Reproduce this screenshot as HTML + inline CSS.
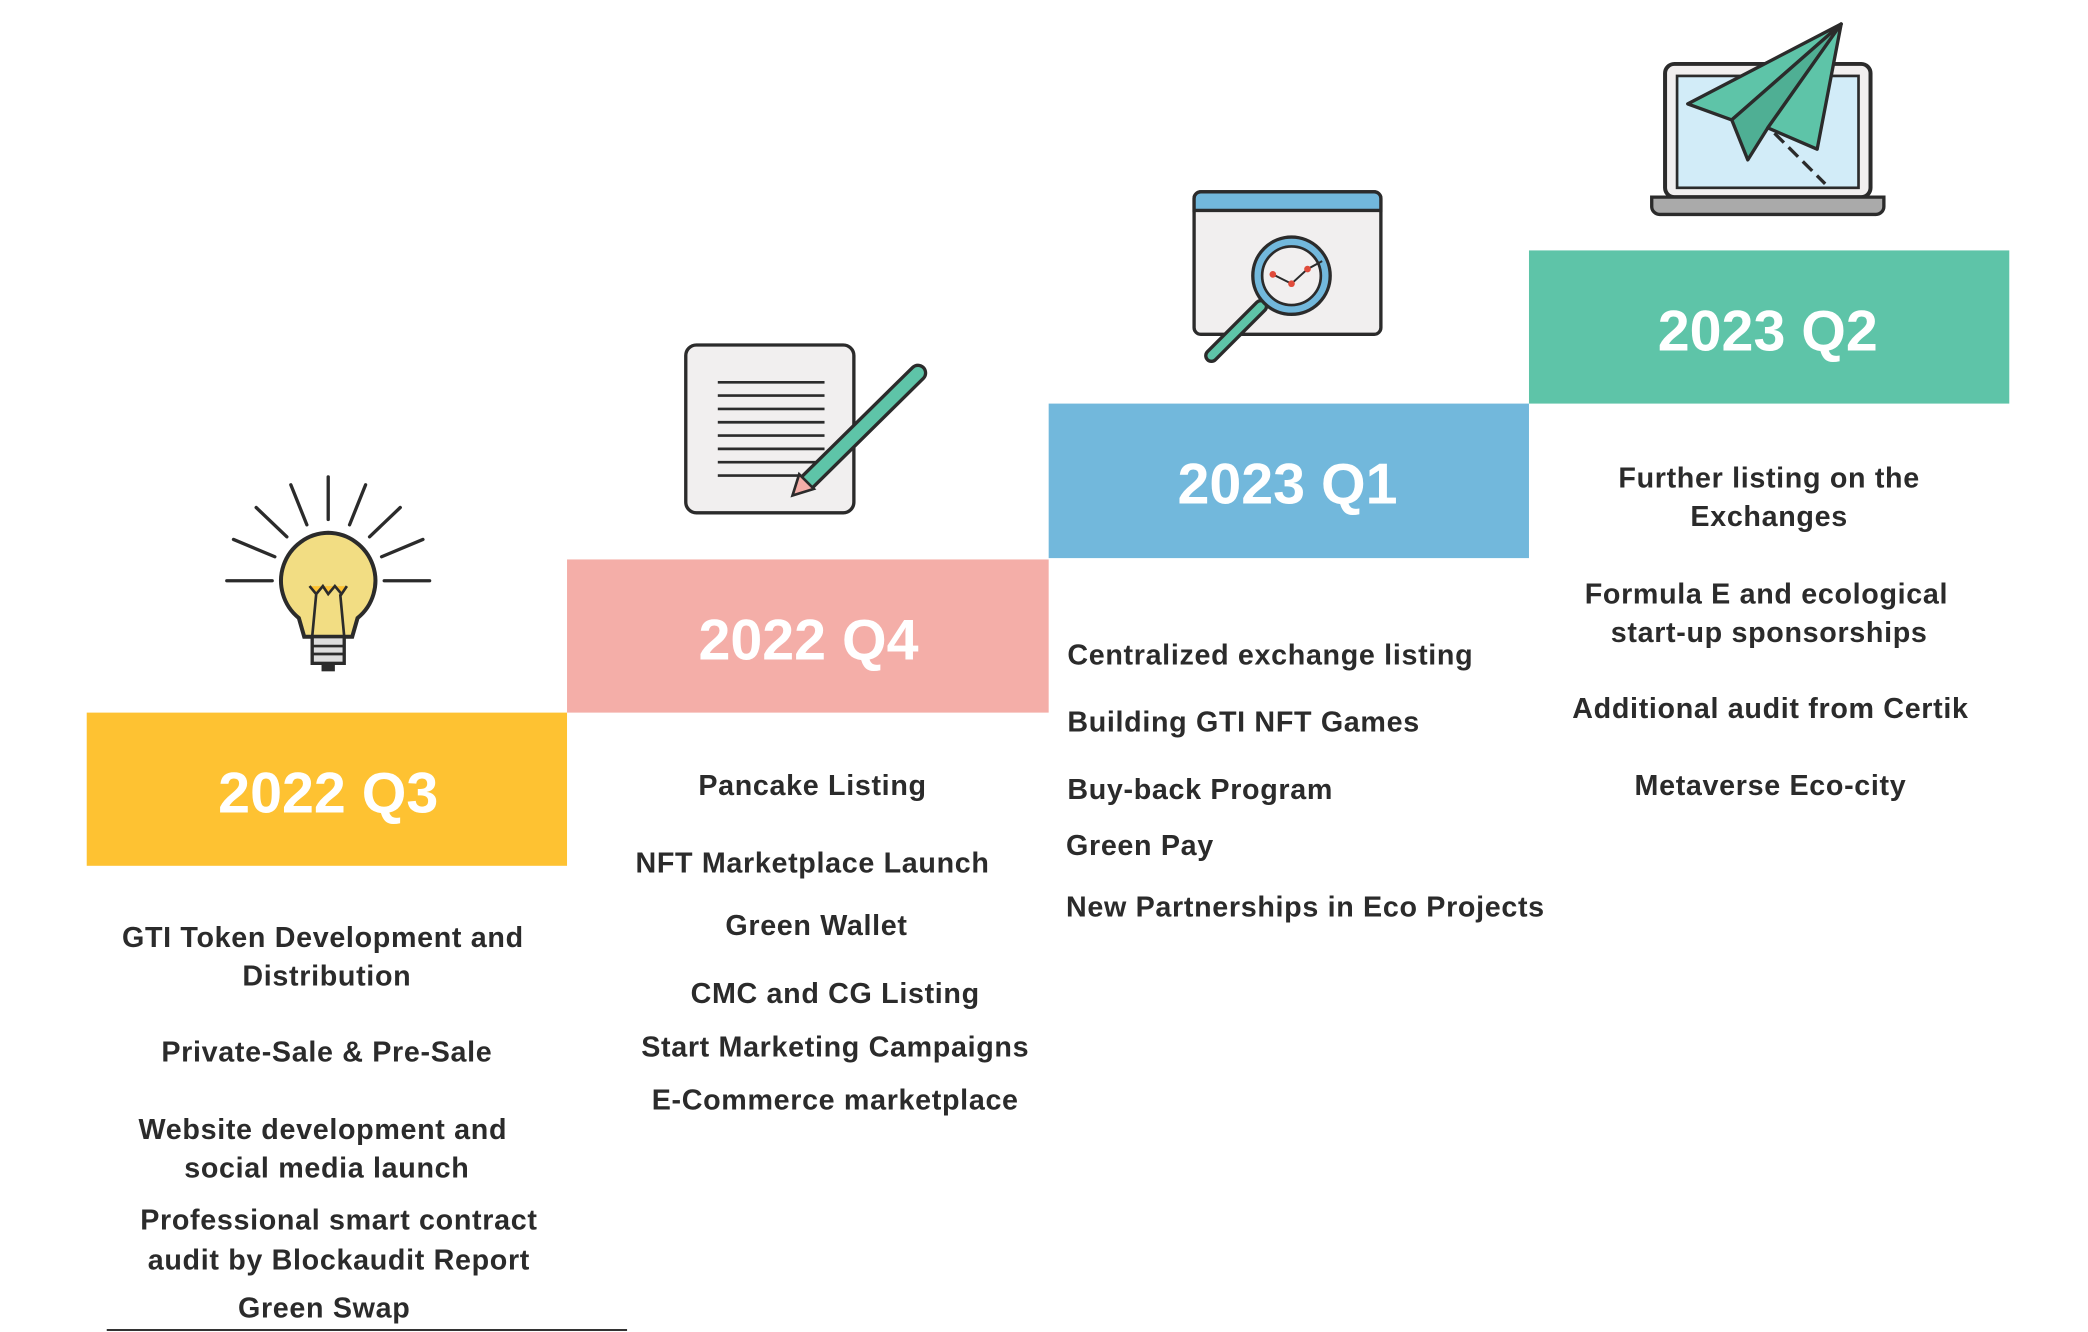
<!DOCTYPE html>
<html><head><meta charset="utf-8"><style>
html,body{margin:0;padding:0;background:#fff;width:2088px;height:1332px;overflow:hidden}
svg{display:block}
text{font-family:"Liberation Sans",sans-serif;font-weight:bold}
.b{font-size:21.5px;fill:#2b2b2b;letter-spacing:0.5px}
.t{font-size:43px;fill:#fff;text-anchor:middle}
</style></head><body>
<svg width="2088" height="1332" viewBox="0 0 1565 1000" preserveAspectRatio="none">
<rect x="65" y="535" width="360" height="115" fill="#FEC232"/>
<rect x="425" y="420" width="361" height="115" fill="#F4AEA8"/>
<rect x="786" y="303" width="360" height="116" fill="#72B8DC"/>
<rect x="1146" y="188" width="360" height="115" fill="#5EC4A8"/>
<text class="t" x="246" y="610">2022 Q3</text>
<text class="t" x="606" y="495">2022 Q4</text>
<text class="t" x="965" y="378">2023 Q1</text>
<text class="t" x="1325" y="263">2023 Q2</text>

<g text-anchor="middle">
<text class="b" x="242" y="711">GTI Token Development and</text>
<text class="b" x="245" y="740">Distribution</text>
<text class="b" x="245" y="797">Private-Sale &amp; Pre-Sale</text>
<text class="b" x="242" y="855">Website development and</text>
<text class="b" x="245" y="884">social media launch</text>
<text class="b" x="254" y="923">Professional smart contract</text>
<text class="b" x="254" y="953">audit by Blockaudit Report</text>
<text class="b" x="243" y="989">Green Swap</text>
<text class="b" x="609" y="597">Pancake Listing</text>
<text class="b" x="609" y="655">NFT Marketplace Launch</text>
<text class="b" x="612" y="702">Green Wallet</text>
<text class="b" x="626" y="753">CMC and CG Listing</text>
<text class="b" x="626" y="793">Start Marketing Campaigns</text>
<text class="b" x="626" y="833">E-Commerce marketplace</text>
<text class="b" x="1326" y="366">Further listing on the</text>
<text class="b" x="1326" y="395">Exchanges</text>
<text class="b" x="1324" y="453">Formula E and ecological</text>
<text class="b" x="1326" y="482">start-up sponsorships</text>
<text class="b" x="1327" y="539">Additional audit from Certik</text>
<text class="b" x="1327" y="597">Metaverse Eco-city</text>
</g>
<text class="b" x="800" y="499">Centralized exchange listing</text>
<text class="b" x="800" y="549">Building GTI NFT Games</text>
<text class="b" x="800" y="600">Buy-back Program</text>
<text class="b" x="799" y="642">Green Pay</text>
<text class="b" x="799" y="688">New Partnerships in Eco Projects</text>
<line x1="80" y1="998.5" x2="470" y2="998.5" stroke="#333" stroke-width="1.5"/>

<!-- bulb -->
<g stroke="#2b2b2b" stroke-width="2.5" stroke-linecap="round">
<line x1="246" y1="358" x2="246" y2="390"/>
<line x1="218" y1="364" x2="230" y2="394"/>
<line x1="274" y1="364" x2="262" y2="394"/>
<line x1="192" y1="381" x2="215" y2="403"/>
<line x1="300" y1="381" x2="277" y2="403"/>
<line x1="175" y1="405" x2="206" y2="418"/>
<line x1="317" y1="405" x2="286" y2="418"/>
<line x1="170" y1="436" x2="204" y2="436"/>
<line x1="322" y1="436" x2="288" y2="436"/>
</g>
<path d="M246 400 a36 36 0 0 1 22 64 l-4 14 h-36 l-4 -14 a36 36 0 0 1 22 -64z" fill="#F2DD83" stroke="#2b2b2b" stroke-width="3"/>
<path d="M232 440 l5 6 5 -6 4 6 5 -6 5 6 4 -6 M237 446 l-3 32 M255 446 l3 32" fill="#FEC232" stroke="#2b2b2b" stroke-width="2"/>
<rect x="234" y="478" width="24" height="20" fill="#ddd" stroke="#2b2b2b" stroke-width="2.5"/>
<line x1="234" y1="485" x2="258" y2="485" stroke="#2b2b2b" stroke-width="2"/>
<line x1="234" y1="491" x2="258" y2="491" stroke="#2b2b2b" stroke-width="2"/>
<rect x="241" y="498" width="10" height="6" fill="#2b2b2b"/>

<!-- document -->
<rect x="514" y="259" width="126" height="126" rx="8" fill="#F1EFEF" stroke="#2b2b2b" stroke-width="2.5"/>
<g stroke="#2b2b2b" stroke-width="2">
<line x1="538" y1="287" x2="618" y2="287"/><line x1="538" y1="297" x2="618" y2="297"/>
<line x1="538" y1="307" x2="618" y2="307"/><line x1="538" y1="317" x2="618" y2="317"/>
<line x1="538" y1="327" x2="618" y2="327"/><line x1="538" y1="337" x2="618" y2="337"/>
<line x1="538" y1="347" x2="618" y2="347"/><line x1="538" y1="357" x2="600" y2="357"/>
</g>
<line x1="605" y1="362" x2="688" y2="280" stroke="#2b2b2b" stroke-width="14" stroke-linecap="round"/>
<line x1="605" y1="362" x2="688" y2="280" stroke="#5EC4A8" stroke-width="9" stroke-linecap="round"/>
<path d="M594 372 l5 -16 l11 11 z" fill="#F4AEA8" stroke="#2b2b2b" stroke-width="2"/>

<!-- browser -->
<rect x="895" y="144" width="140" height="107" rx="5" fill="#F1EFEF" stroke="#2b2b2b" stroke-width="2.5"/>
<path d="M895 158 v-9 a5 5 0 0 1 5 -5 h130 a5 5 0 0 1 5 5 v9 z" fill="#72B8DC" stroke="#2b2b2b" stroke-width="2.5"/>
<line x1="945" y1="230" x2="908" y2="267" stroke="#2b2b2b" stroke-width="11" stroke-linecap="round"/>
<line x1="945" y1="230" x2="908" y2="267" stroke="#5EC4A8" stroke-width="6" stroke-linecap="round"/>
<circle cx="968" cy="207" r="29" fill="#72B8DC" stroke="#2b2b2b" stroke-width="2.5"/>
<circle cx="968" cy="207" r="22" fill="#F1EFEF" stroke="#2b2b2b" stroke-width="2"/>
<polyline points="954,206 968,213 980,202 991,196" fill="none" stroke="#2b2b2b" stroke-width="1.5"/>
<circle cx="954" cy="206" r="2.5" fill="#e04b3b"/><circle cx="968" cy="213" r="2.5" fill="#e04b3b"/><circle cx="980" cy="202" r="2.5" fill="#e04b3b"/>

<!-- laptop -->
<rect x="1248" y="48" width="154" height="100" rx="7" fill="#F1EFEF" stroke="#2b2b2b" stroke-width="3"/>
<rect x="1257" y="57" width="136" height="84" fill="#D2ECF8" stroke="#2b2b2b" stroke-width="2"/>
<path d="M1238 148 h174 v7 a6 6 0 0 1 -6 6 h-162 a6 6 0 0 1 -6 -6 z" fill="#aaa" stroke="#2b2b2b" stroke-width="2.5"/>
<line x1="1330" y1="100" x2="1368" y2="138" stroke="#2b2b2b" stroke-width="2.5" stroke-dasharray="10 5"/>
<path d="M1380 18 L1265 78 L1298 90 Z" fill="#5EC4A8" stroke="#2b2b2b" stroke-width="2.5" stroke-linejoin="round"/>
<path d="M1380 18 L1298 90 L1310 120 L1325 96 Z" fill="#4FAF94" stroke="#2b2b2b" stroke-width="2.5" stroke-linejoin="round"/>
<path d="M1380 18 L1325 96 L1362 112 Z" fill="#5EC4A8" stroke="#2b2b2b" stroke-width="2.5" stroke-linejoin="round"/>
</svg>
</body></html>
